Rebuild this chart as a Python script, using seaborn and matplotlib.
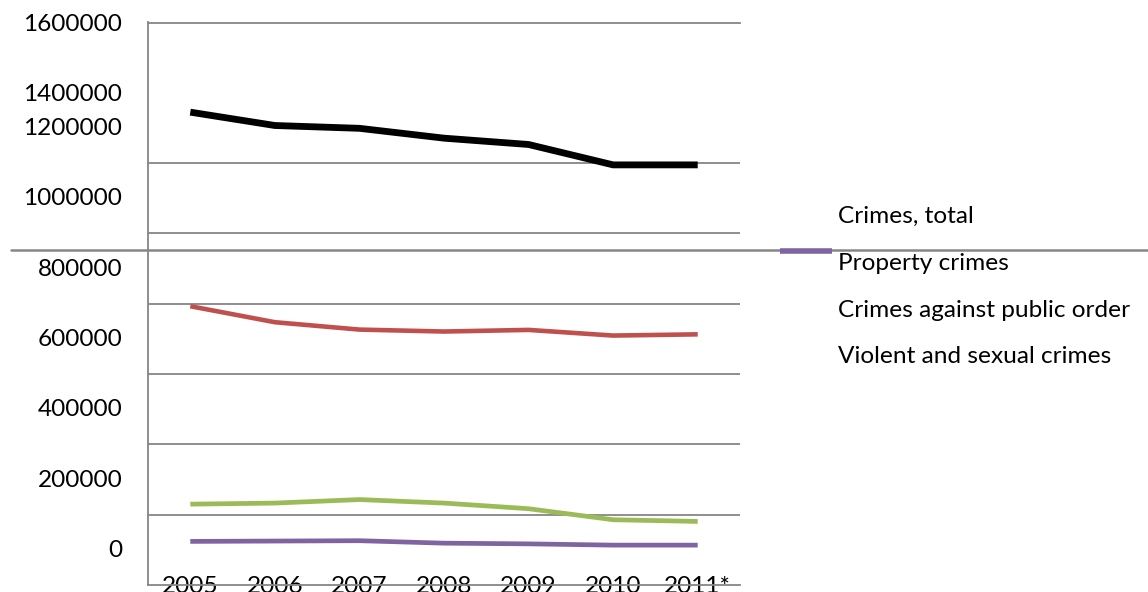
import matplotlib
matplotlib.use("Agg")
import matplotlib.pyplot as plt
from matplotlib.lines import Line2D
import seaborn as sns
import pandas as pd
import numpy as np

# ---- data ----
years = ["2005", "2006", "2007", "2008", "2009", "2010", "2011*"]
crimes_total = [1241000, 1203000, 1195000, 1167000, 1149000, 1091000, 1091000]
property_crimes = [689000, 643500, 622500, 617000, 621600, 605500, 609000]
public_order = [126000, 129000, 139000, 129000, 113000, 81600, 76800]
violent_sexual = [20000, 21000, 22000, 15000, 13000, 9400, 9400]
series_names = ["Crimes, total", "Property crimes",
                "Crimes against public order", "Violent and sexual crimes"]
ytick_labels = ["0", "200000", "400000", "600000", "800000",
                "1000000", "1200000", "1400000", "1600000"]

colors = {"Crimes, total": "#000000", "Property crimes": "#C0504D",
          "Crimes against public order": "#9BBB59",
          "Violent and sexual crimes": "#8064A2"}
widths = {"Crimes, total": 4.9, "Property crimes": 3.3,
          "Crimes against public order": 3.4, "Violent and sexual crimes": 3.4}

df = pd.DataFrame({"year": years * 4,
                   "value": crimes_total + property_crimes + public_order + violent_sexual,
                   "series": sum([[n] * len(years) for n in series_names], [])})

sns.set_theme(style="white")
plt.rcParams["font.family"] = ["Lato", "DejaVu Sans"]

FS = 17.6
W, H = 1148, 592
fig = plt.figure(figsize=(W / 100, H / 100), dpi=100)
ax = fig.add_axes([148 / W, 1 - 585 / H, (740 - 148) / W, (585 - 22.5) / H])

for name in series_names:
    sns.lineplot(data=df[df.series == name], x="year", y="value", ax=ax,
                 color=colors[name], linewidth=widths[name], legend=False,
                 solid_capstyle="butt", zorder=3)

grid_col = "#868686"
ymin, ymax = -104000, 1496000
ax.set_ylim(ymin, ymax)
ax.set_xlim(-0.5, len(years) - 0.5)

# gridlines (minor ticks), labels (major ticks, reproducing the original's layout)
ax.set_yticks(np.arange(ymin + 200000, ymax, 200000), minor=True)
label_pos = [0, 200000, 400000, 600000, 800000, 1000000, 1200000, 1296000, 1496000]
ax.set_yticks(label_pos)
ax.set_yticklabels(ytick_labels)
ax.grid(False)
ax.grid(True, axis="y", which="minor", color=grid_col, linewidth=1.3)
ax.tick_params(axis="y", which="both", length=0, pad=18.5, labelsize=FS,
               labelcolor="black")

# x axis: tick marks at category boundaries, labels at centres
ax.set_xticks(np.arange(-0.5, len(years), 1.0))
ax.set_xticklabels([])
ax.set_xticks(np.arange(len(years)), minor=True)
ax.set_xticklabels(years, minor=True)
ax.tick_params(axis="x", which="major", direction="out", length=5.5,
               width=1.3, color=grid_col)
ax.tick_params(axis="x", which="minor", length=0, pad=-6.5, labelsize=FS,
               labelcolor="black")
ax.set_xlabel("")
ax.set_ylabel("")

for s in ["left", "bottom", "top"]:
    ax.spines[s].set_visible(True)
    ax.spines[s].set_color(grid_col)
    ax.spines[s].set_linewidth(1.3)
ax.spines["right"].set_visible(False)

# long horizontal rule across the figure
fig.add_artist(Line2D([10.5 / W, 1.0], [1 - 250 / H, 1 - 250 / H],
                      color=grid_col, linewidth=1.8, zorder=5))
# the one visible legend key
fig.add_artist(Line2D([780 / W, 832 / W], [1 - 250.5 / H, 1 - 250.5 / H],
                      color="#8064A2", linewidth=4.0, solid_capstyle="butt", zorder=6))

# legend labels
for i, name in enumerate(series_names):
    fig.text(838 / W, 1 - (223.3 + 46.7 * i) / H, name, fontsize=FS,
             va="baseline", ha="left", color="black")

fig.savefig("out.png", dpi=100)
